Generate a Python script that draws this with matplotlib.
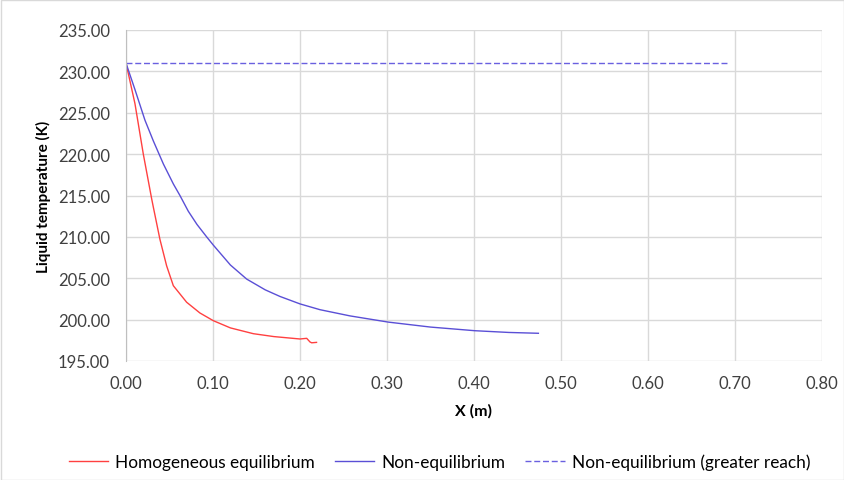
import matplotlib
matplotlib.use("Agg")
import matplotlib.pyplot as plt

plt.rcParams['font.family'] = ['Lato', 'DejaVu Sans']

# Homogeneous equilibrium
x_he = [0.0, 0.0103, 0.0199, 0.0295, 0.0314, 0.039, 0.0467, 0.0544, 0.0697, 0.085, 0.1004,
        0.12, 0.1464, 0.17, 0.2, 0.2077, 0.2115, 0.2134, 0.219]
t_he = [231.0, 226.1, 220.0, 214.6, 213.6, 209.7, 206.5, 204.1, 202.1, 200.8, 199.87,
        199.0, 198.3, 197.95, 197.66, 197.74, 197.3, 197.2, 197.25]

# Non-equilibrium
x_ne = [0.0, 0.0103, 0.0218, 0.0314, 0.043, 0.0544, 0.062, 0.0716, 0.0816, 0.0927, 0.1004,
        0.12, 0.1387, 0.16, 0.177, 0.2, 0.223, 0.2575, 0.3015, 0.35, 0.401, 0.44, 0.474]
t_ne = [231.0, 227.8, 224.1, 221.6, 218.8, 216.4, 215.0, 213.1, 211.5, 210.0, 209.0,
        206.6, 204.9, 203.6, 202.8, 201.9, 201.2, 200.45, 199.7, 199.1, 198.66, 198.45, 198.35]

# Non-equilibrium (greater reach)
x_gr = [0.0, 0.691]
t_gr = [231.0, 231.0]

xticks = [0.0, 0.1, 0.2, 0.3, 0.4, 0.5, 0.6, 0.7, 0.8]
yticks = [195, 200, 205, 210, 215, 220, 225, 230, 235]

fig = plt.figure(figsize=(8.45, 4.81), dpi=100)
ax = fig.add_axes([126/845, 1 - 362/481, (822-126)/845, (362-31)/481])

ax.plot(x_he, t_he, color='#ff4040', lw=1.0, label='Homogeneous equilibrium')
ax.plot(x_ne, t_ne, color='#5a4fd6', lw=1.0, label='Non-equilibrium')
ax.plot(x_gr, t_gr, color='#6a60e0', lw=1.0, ls=(0, (4.3, 2.0)), label='Non-equilibrium (greater reach)')

ax.set_xlim(0, 0.8)
ax.set_ylim(195, 235)
ax.set_xticks(xticks)
ax.set_yticks(yticks)
ax.set_xticklabels([f'{v:.2f}' for v in xticks])
ax.set_yticklabels([f'{v:.2f}' for v in yticks])
ax.tick_params(axis='x', length=0, labelsize=12, colors='#404040', pad=10)
ax.tick_params(axis='y', length=0, labelsize=12, colors='#404040', pad=11.5)
ax.grid(True, color='#d9d9d9', lw=1.0)
ax.set_axisbelow(True)
for s in ['top', 'right', 'bottom']:
    ax.spines[s].set_visible(False)
ax.spines['left'].set_color('#bfbfbf')
ax.set_xlabel('X (m)', fontsize=11.5, fontweight='bold', color='#000000', labelpad=9)
ax.set_ylabel('Liquid temperature (K)', fontsize=11, fontweight='bold', color='#000000', labelpad=5)

fig.legend(loc='center', bbox_to_anchor=(0.52, 1 - 463/481), ncol=3, frameon=False,
           fontsize=12.4, handlelength=2.3, columnspacing=1.15, handletextpad=0.4)

fig.patches.append(plt.Rectangle((0.5/845, 0.5/481), 1 - 1/845, 1 - 1/481, transform=fig.transFigure,
                                 fill=False, edgecolor='#d9d9d9', lw=1.0))

fig.savefig('out.png', dpi=100)
